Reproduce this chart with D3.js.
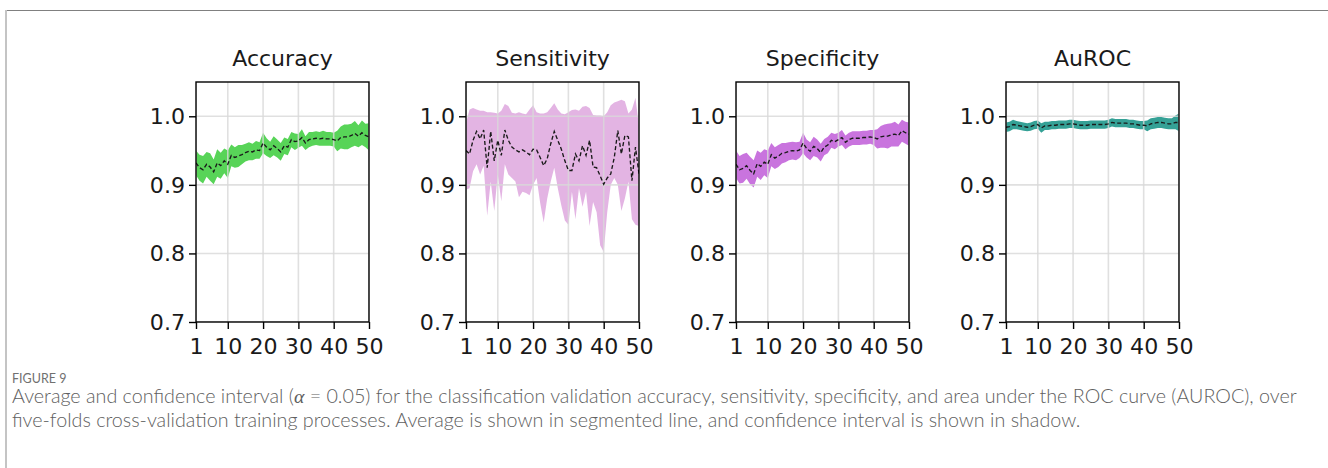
<!DOCTYPE html>
<html><head><meta charset="utf-8">
<script src="https://cdn.jsdelivr.net/npm/d3@7"></script>
<style>body{margin:0;background:#fff;} svg{display:block}</style>
</head><body><svg id="chart" width="1328" height="468"></svg>
<script>
// ---------------- data ----------------
const epochs = d3.range(1, 51);
const xTicks = [1, 10, 20, 30, 40, 50];
const yTicks = [0.7, 0.8, 0.9, 1.0];
const titles = ["Accuracy", "Sensitivity", "Specificity", "AuROC"];

const accuracyMean = [0.932,0.925,0.922,0.930,0.926,0.919,0.932,0.928,0.935,0.930,
  0.943,0.940,0.942,0.944,0.947,0.949,0.948,0.951,0.950,0.961,
  0.955,0.951,0.957,0.953,0.948,0.957,0.955,0.966,0.963,0.964,
  0.969,0.961,0.966,0.967,0.968,0.967,0.968,0.967,0.967,0.966,
  0.964,0.969,0.970,0.970,0.972,0.975,0.971,0.976,0.972,0.970];
const accuracyHalf = [0.018,0.019,0.020,0.018,0.020,0.018,0.020,0.019,0.018,0.020,
  0.016,0.015,0.016,0.014,0.013,0.013,0.012,0.013,0.012,0.015,
  0.013,0.012,0.014,0.013,0.013,0.012,0.012,0.011,0.012,0.010,
  0.012,0.010,0.011,0.010,0.010,0.010,0.011,0.010,0.010,0.010,
  0.015,0.016,0.018,0.018,0.017,0.018,0.016,0.018,0.017,0.020];

const sensitivityMean = [0.950,0.945,0.965,0.978,0.967,0.980,0.925,0.978,0.935,0.965,
  0.943,0.980,0.965,0.955,0.951,0.948,0.951,0.948,0.944,0.952,
  0.951,0.940,0.928,0.938,0.960,0.978,0.965,0.952,0.935,0.921,
  0.921,0.945,0.935,0.957,0.943,0.965,0.926,0.925,0.913,0.901,
  0.910,0.916,0.940,0.979,0.945,0.972,0.970,0.906,0.955,0.916];
const sensitivityLow = [0.893,0.895,0.920,0.930,0.915,0.928,0.855,0.905,0.862,0.915,
  0.876,0.930,0.915,0.910,0.905,0.882,0.890,0.888,0.885,0.900,
  0.910,0.874,0.845,0.880,0.905,0.925,0.895,0.870,0.848,0.842,
  0.890,0.850,0.895,0.868,0.890,0.840,0.875,0.860,0.812,0.802,
  0.860,0.900,0.910,0.900,0.862,0.880,0.905,0.850,0.842,0.840];
const sensitivityHigh = [0.990,1.010,1.012,1.010,1.008,1.008,1.006,1.006,1.005,1.004,
  1.008,1.018,1.015,1.005,1.004,1.006,1.004,1.003,1.010,1.016,
  1.006,1.004,1.004,1.006,1.012,1.019,1.010,1.004,1.003,1.006,
  1.009,1.010,1.008,1.014,1.015,1.012,1.002,1.001,1.001,1.000,
  1.006,1.016,1.020,1.022,1.024,1.022,1.004,1.010,1.027,0.985];

const specificityMean = [0.930,0.922,0.924,0.928,0.921,0.916,0.931,0.927,0.933,0.930,
  0.944,0.939,0.942,0.946,0.947,0.949,0.950,0.949,0.951,0.961,
  0.953,0.949,0.956,0.953,0.947,0.955,0.958,0.965,0.963,0.966,
  0.969,0.962,0.966,0.968,0.968,0.968,0.969,0.969,0.970,0.969,
  0.967,0.970,0.971,0.971,0.973,0.974,0.972,0.979,0.976,0.974];
const specificityHalf = [0.020,0.020,0.021,0.019,0.020,0.020,0.019,0.020,0.019,0.020,
  0.017,0.016,0.016,0.015,0.014,0.013,0.013,0.013,0.012,0.015,
  0.013,0.013,0.014,0.013,0.013,0.012,0.012,0.011,0.011,0.010,
  0.011,0.010,0.010,0.010,0.010,0.010,0.010,0.010,0.010,0.011,
  0.014,0.016,0.017,0.018,0.017,0.018,0.016,0.016,0.016,0.017];

const aurocMean = [0.984,0.985,0.988,0.987,0.986,0.985,0.984,0.985,0.987,0.988,
  0.983,0.986,0.986,0.987,0.987,0.988,0.988,0.988,0.989,0.989,
  0.988,0.987,0.987,0.987,0.988,0.988,0.988,0.988,0.988,0.989,
  0.991,0.990,0.990,0.990,0.990,0.989,0.989,0.988,0.987,0.987,
  0.986,0.989,0.990,0.991,0.991,0.990,0.989,0.989,0.991,0.991];
const aurocHalf = [0.007,0.007,0.007,0.006,0.006,0.006,0.006,0.006,0.006,0.006,
  0.007,0.006,0.006,0.006,0.006,0.006,0.006,0.006,0.006,0.006,
  0.006,0.006,0.006,0.006,0.006,0.006,0.006,0.006,0.006,0.006,
  0.006,0.006,0.006,0.006,0.006,0.006,0.006,0.006,0.006,0.006,
  0.008,0.008,0.008,0.008,0.008,0.008,0.008,0.008,0.010,0.013];

const bandColors = ["#4fd24f", "#e2b0e2", "#c66ddc", "#2a9c90"];

const captionLabel = "FIGURE 9";
const captionLine1a = "Average and confidence interval (";
const captionAlpha = "α";
const captionLine1b = " = 0.05) for the classification validation accuracy, sensitivity, specificity, and area under the ROC curve (AUROC), over";
const captionLine2 = "five-folds cross-validation training processes. Average is shown in segmented line, and confidence interval is shown in shadow.";

// ---------------- build ----------------
const panels = [
  {mean: accuracyMean, low: accuracyMean.map((m,i)=>m-accuracyHalf[i]), high: accuracyMean.map((m,i)=>m+accuracyHalf[i])},
  {mean: sensitivityMean, low: sensitivityLow, high: sensitivityHigh},
  {mean: specificityMean, low: specificityMean.map((m,i)=>m-specificityHalf[i]), high: specificityMean.map((m,i)=>m+specificityHalf[i])},
  {mean: aurocMean, low: aurocMean.map((m,i)=>m-aurocHalf[i]), high: aurocMean.map((m,i)=>m+aurocHalf[i])}
];

const svg = d3.select("#chart");
const font = "DejaVu Sans, sans-serif";
const sx = 1.08;       // horizontal glyph stretch seen in the reference
const panelLeft0 = 196, panelStep = 270, pw = 173, panelTop = 82, ph = 240;

// frame
svg.append("line").attr("x1", 5).attr("x2", 1328).attr("y1", 10.5).attr("y2", 10.5)
  .attr("stroke", "#808080").attr("stroke-width", 1.2);
svg.append("line").attr("x1", 6).attr("x2", 6).attr("y1", 10).attr("y2", 468)
  .attr("stroke", "#c4c4c4").attr("stroke-width", 2);

panels.forEach((p, k) => {
  const g = svg.append("g").attr("transform", `translate(${panelLeft0 + k*panelStep},${panelTop})`);
  const x = d3.scaleLinear().domain([1, 50]).range([0, pw]);
  const y = d3.scaleLinear().domain([0.7, 1.05]).range([ph, 0]);
  const clipId = "clip" + k;
  g.append("clipPath").attr("id", clipId).append("rect").attr("width", pw).attr("height", ph);
  const plot = g.append("g").attr("clip-path", `url(#${clipId})`);

  plot.append("path")
    .datum(epochs.map((e,i)=>({e, lo: p.low[i], hi: p.high[i]})))
    .attr("d", d3.area().x(d=>x(d.e)).y0(d=>y(d.lo)).y1(d=>y(d.hi)))
    .attr("fill", bandColors[k]).attr("opacity", 0.95);

  // grid above band
  plot.append("g").selectAll("line").data(xTicks).join("line")
    .attr("x1", d=>x(d)).attr("x2", d=>x(d)).attr("y1", 0).attr("y2", ph)
    .attr("stroke", "#d8d8d8").attr("stroke-opacity", 0.8).attr("stroke-width", 1.6);
  plot.append("g").selectAll("line").data(yTicks).join("line")
    .attr("x1", 0).attr("x2", pw).attr("y1", d=>y(d)).attr("y2", d=>y(d))
    .attr("stroke", "#d8d8d8").attr("stroke-opacity", 0.8).attr("stroke-width", 1.6);

  plot.append("path")
    .datum(epochs.map((e,i)=>({e, v: p.mean[i]})))
    .attr("d", d3.line().x(d=>x(d.e)).y(d=>y(d.v)))
    .attr("fill", "none").attr("stroke", "#1a1a1a").attr("stroke-width", 1.35)
    .attr("stroke-dasharray", "4,2.4");

  // box
  g.append("rect").attr("width", pw).attr("height", ph).attr("fill", "none")
    .attr("stroke", "#000").attr("stroke-width", 1.4);

  const xa = g.append("g").attr("transform", `translate(0,${ph})`)
    .call(d3.axisBottom(x).tickValues(xTicks).tickFormat(d3.format("d")).tickSize(7).tickPadding(6));
  const ya = g.append("g")
    .call(d3.axisLeft(y).tickValues(yTicks).tickFormat(d3.format(".1f")).tickSize(7).tickPadding(5));
  [xa, ya].forEach(a => {
    a.select(".domain").remove();
    a.selectAll(".tick line").attr("stroke", "#000").attr("stroke-width", 1.4);
    a.selectAll(".tick text").attr("font-family", font).attr("font-size", 20.5)
      .attr("fill", "#1a1a1a").attr("transform", `scale(${sx},1)`);
  });
  xa.selectAll(".tick text").attr("dy", "0.92em");
  ya.selectAll(".tick text").attr("x", -11/sx).attr("dy", "0.36em");

  g.append("text").attr("transform", `translate(${pw/2},-16) scale(1.05,1)`)
    .attr("text-anchor", "middle").attr("font-family", font).attr("font-size", 21)
    .attr("fill", "#1a1a1a").text(titles[k]);
});

// caption
const capFont = "Lato, Open Sans, sans-serif";
svg.append("text").attr("x", 12).attr("y", 383).attr("font-family", capFont)
  .attr("font-size", 12.5).attr("fill", "#707070").text(captionLabel);
const l1 = svg.append("text").attr("x", 12).attr("y", 403).attr("font-family", capFont)
  .attr("font-weight", 300).attr("font-size", 15).attr("fill", "#606060");
l1.append("tspan").text(captionLine1a);
l1.append("tspan").attr("font-style", "italic").attr("font-weight", 400)
  .attr("font-family", "Liberation Serif, DejaVu Serif, serif").text(captionAlpha);
l1.append("tspan").text(captionLine1b);
const l2 = svg.append("text").attr("x", 12).attr("y", 427).attr("font-family", capFont)
  .attr("font-weight", 300).attr("font-size", 15).attr("fill", "#606060").text(captionLine2);
// fit first line to reference width
const w1 = l1.node().getComputedTextLength();
const fs = 15 * 1285 / w1;
l1.attr("font-size", fs); l2.attr("font-size", fs);
</script></body></html>
